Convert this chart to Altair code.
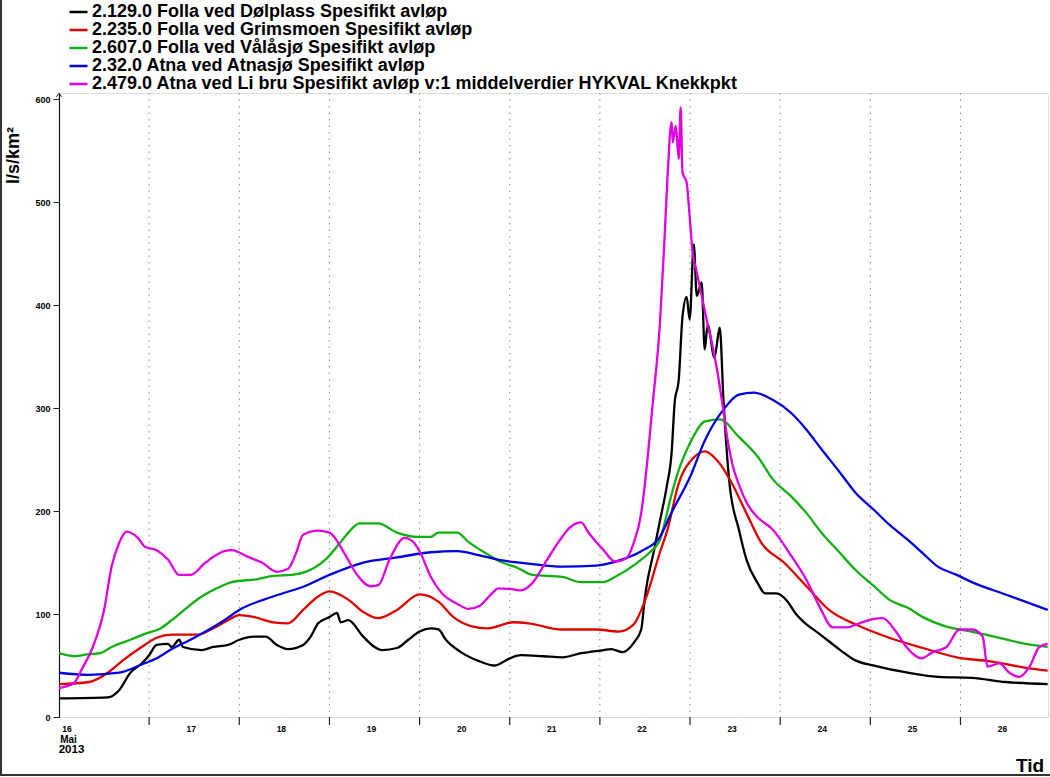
import altair as alt
import pandas as pd

# ---------------- data (hours since 2013-05-16 00:00, l/s/km2) ----------------
series_names = [
    "2.129.0 Folla ved Dølplass Spesifikt avløp",
    "2.235.0 Folla ved Grimsmoen Spesifikt avløp",
    "2.607.0 Folla ved Vålåsjø Spesifikt avløp",
    "2.32.0 Atna ved Atnasjø Spesifikt avløp",
    "2.479.0 Atna ved Li bru Spesifikt avløp v:1 middelverdier HYKVAL Knekkpkt",
]
series_colors = ["#000000", "#e00000", "#10b010", "#0000e0", "#e000e0"]

dol_h = [0, 13, 16, 19, 22, 24, 26, 29, 30, 32, 33, 38, 41, 45, 48, 52, 55, 58, 61, 65,
         67, 69, 72, 74, 75, 77, 81, 84, 86, 90, 93, 96, 99, 101, 103, 107, 112, 116, 120, 123,
         129, 134, 139, 145, 147, 150, 153, 155, 156, 158.6, 159.9, 161.8, 163.1, 163.9, 165.0,
         166.0, 167.1, 167.9, 169.0, 169.8, 171.1, 171.9, 172.7, 174.5, 175.9, 176.9, 178.5,
         181, 183, 186, 188, 191, 194, 196, 199, 202, 208, 212, 217, 226, 234, 243, 252, 263.2]
dol_v = [18, 19, 26, 43, 52, 60, 70, 71, 68, 75, 68, 65, 68, 70, 75, 78, 78, 70, 66, 70,
         78, 91, 97, 101, 92, 94, 78, 68, 65, 67, 75, 83, 86, 85, 75, 63, 54, 50, 57, 60,
         59, 58, 62, 65, 66, 63, 72, 85, 117, 165, 189, 224, 257, 305, 328, 389, 408, 386, 459, 409,
         422, 357, 381, 349, 378, 308, 227, 182, 153, 130, 120, 120, 112, 101, 90, 82, 65, 55, 50, 43,
         39, 38, 34, 32]

grim_h = [0, 8, 13, 17, 22, 26, 30, 37, 41, 45, 48, 52, 57, 61, 65, 69, 72, 77, 81, 85,
          90, 96, 101, 105, 110, 114, 121, 125, 134, 143, 149, 153, 156, 160, 162, 165, 169, 172,
          175, 179, 183, 187, 193, 199, 205, 212, 221, 230, 239, 248, 257, 263.2]
grim_v = [32, 34, 43, 55, 68, 77, 80, 80, 86, 94, 99, 97, 92, 91, 104, 117, 122, 114, 102, 96,
          104, 119, 112, 97, 88, 86, 92, 91, 85, 85, 83, 90, 113, 160, 182, 227, 252, 258, 250, 228,
          198, 169, 150, 127, 104, 90, 77, 67, 58, 54, 48, 45]

vala_h = [0, 4, 8, 11, 14, 19, 23, 27, 30, 34, 38, 42, 46, 53, 57, 62, 68, 71, 75, 78,
          80, 85, 90, 95, 99, 101, 106, 109, 115, 118, 122, 126, 134, 139, 145, 148, 154, 157, 160, 161,
          163, 165, 168, 172, 176, 181, 186, 190, 195, 199, 203, 208, 212, 217, 221, 226, 230, 236,
          243, 249, 256, 263.2]
vala_v = [62, 59, 61, 62, 68, 75, 81, 86, 94, 106, 117, 125, 131, 134, 137, 138, 145, 153, 170, 183,
          188, 188, 179, 175, 175, 179, 179, 170, 156, 150, 145, 138, 136, 131, 131, 136, 150, 159, 172, 185,
          215, 240, 266, 287, 289, 272, 253, 231, 214, 198, 179, 159, 143, 127, 114, 106, 97, 88,
          83, 78, 72, 68]

atna_h = [0, 8, 16, 22, 26, 30, 35, 39, 44, 48, 57, 66, 72, 81, 90, 99, 106, 112, 118, 125,
          134, 143, 150, 155, 160, 163, 168, 172, 177, 181, 185, 190, 195, 199, 203, 208, 212, 217,
          221, 226, 230, 234, 239, 243, 252, 263.2]
atna_v = [43, 41, 43, 51, 57, 66, 75, 83, 94, 104, 117, 128, 138, 150, 155, 160, 161, 157, 152, 149,
          146, 147, 153, 161, 175, 198, 233, 269, 299, 313, 315, 308, 295, 279, 260, 237, 218, 201,
          187, 172, 159, 146, 138, 131, 119, 104]

li_h = [0, 4, 6, 9, 12, 14, 16, 18, 21, 23, 26, 29, 32, 35, 39, 44, 46, 50, 54, 58,
        61, 63, 65, 69, 72, 76, 79, 83, 85, 88, 92, 94, 96, 99, 102, 106, 109, 112, 115, 117,
        121, 123, 126, 130, 133, 136, 139, 141, 145, 148, 151, 153, 155, 156, 158, 160, 161.2, 162.0,
        163.1, 163.4, 164.2, 165.0, 165.5, 166.0, 167.1, 167.9, 168.7, 169.8, 171.1, 172.4, 174.0,
        175.3, 176.7, 178.0, 179.3, 181.2, 183.1, 185.7, 190.0, 194.5, 199.0, 202.5, 206.0, 209.7,
        213.1, 216.6, 219.3, 223.0, 225.6, 229.6, 232.6, 236.3, 239.7, 243.2, 245.9, 247.2, 250.4,
        253.0, 255.7, 258.4, 261.0, 263.2]
li_v = [28, 33, 46, 68, 104, 146, 169, 180, 174, 165, 162, 153, 138, 138, 150, 161, 162, 156, 150, 141,
        144, 158, 177, 181, 179, 159, 140, 127, 128, 153, 174, 171, 161, 136, 120, 110, 105, 108, 119, 125,
        124, 123, 130, 153, 170, 184, 189, 179, 162, 151, 154, 169, 198, 227, 302, 383, 464, 524,
        578, 558, 574, 542, 592, 529, 519, 486, 451, 432, 409, 386, 360,
        335, 302, 269, 245, 224, 208, 195, 182, 159, 133, 107, 87, 87,
        91, 95, 96, 82, 68, 57, 63, 68, 85, 85, 78, 49, 52,
        43, 39, 49, 68, 71]

y_ticks = [0, 100, 200, 300, 400, 500, 600]
day_labels = ["17", "18", "19", "20", "21", "22", "23", "24", "25", "26"]
first_label = ["16", "Mai", "2013"]
x_title = "Tid"
y_title = "l/s/km²"

# ---------------- build table ----------------
all_h = [dol_h, grim_h, vala_h, atna_h, li_h]
all_v = [dol_v, grim_v, vala_v, atna_v, li_v]
rows = []
for name, hs, vs in zip(series_names, all_h, all_v):
    for h, v in zip(hs, vs):
        rows.append({"serie": name, "t": h, "v": v})
df = pd.DataFrame(rows)

X_MAX = 263.3
Y_MAX = 606
W, H = 989, 624
FONT = "Liberation Sans"

x_scale = alt.Scale(domain=[0, X_MAX], nice=False, zero=False)
y_scale = alt.Scale(domain=[0, Y_MAX], nice=False, zero=True)

day_bounds = pd.DataFrame({"d": [24 * (i + 1) for i in range(len(day_labels))]})
day_lab_df = pd.DataFrame({"t": [24 * (i + 1) + 12 for i in range(len(day_labels))],
                           "lab": day_labels})
one = pd.DataFrame({"k": [0]})

lines = alt.Chart(df).mark_line(strokeWidth=2.3, clip=True, interpolate="monotone").encode(
    x=alt.X("t:Q", scale=x_scale,
            axis=alt.Axis(values=list(range(0, 264)), labels=False, grid=False, title=None,
                          tickSize=4, tickColor="#222", domainColor="#111", domainWidth=1.2)),
    y=alt.Y("v:Q", scale=y_scale,
            axis=alt.Axis(values=y_ticks, grid=False, tickSize=6, tickColor="#222",
                          domainColor="#111", domainWidth=1.2, labelFont=FONT,
                          labelFontSize=9, labelFontWeight="bold", labelColor="black",
                          labelPadding=3, title=y_title, titleFont=FONT, titleFontSize=18,
                          titleFontWeight="bold", titleColor="black", titleAngle=270,
                          titleX=-46, titleY=62, titleAlign="center", titleBaseline="middle")),
    color=alt.Color("serie:N", sort=series_names,
                    scale=alt.Scale(domain=series_names, range=series_colors),
                    legend=alt.Legend(orient="none", legendX=9, legendY=-90, title=None,
                                      symbolType="stroke", symbolSize=324, symbolStrokeWidth=2.5,
                                      labelFont="Liberation Sans Narrow, Liberation Sans",
                                      labelFontSize=18, labelFontWeight="bold",
                                      labelColor="black", labelLimit=1000, labelOffset=3,
                                      clipHeight=18, rowPadding=0, padding=0)),
)

grid = alt.Chart(day_bounds).mark_rule(color="#888", strokeWidth=1, strokeDash=[1.5, 5]).encode(
    x=alt.X("d:Q", scale=x_scale, axis=None), y=alt.value(0), y2=alt.value(H))

major = alt.Chart(day_bounds).mark_rule(color="#222", strokeWidth=1.2).encode(
    x=alt.X("d:Q", scale=x_scale, axis=None), y=alt.value(H), y2=alt.value(H + 8))

day_text = alt.Chart(day_lab_df).mark_text(font=FONT, fontSize=8.5, fontWeight="bold",
                                           color="black", baseline="middle", dx=-3).encode(
    x=alt.X("t:Q", scale=x_scale, axis=None), y=alt.value(H + 12), text="lab:N")

first_layers = []
for lab, yy, fs, xx in zip(first_label, [H + 12, H + 23, H + 33], [8.5, 10, 11.5], [8, 9.5, 12.5]):
    first_layers.append(
        alt.Chart(one).mark_text(font=FONT, fontSize=fs, fontWeight="bold", color="black",
                                 baseline="middle", align="center", text=lab).encode(
            x=alt.value(xx), y=alt.value(yy)))

tid = alt.Chart(one).mark_text(font=FONT, fontSize=19, fontWeight="bold", color="black",
                               align="left", baseline="alphabetic", text=x_title).encode(
    x=alt.value(957), y=alt.value(H + 55))

frame_left = alt.Chart(one).mark_rule(color="#333", strokeWidth=2).encode(
    x=alt.value(-58), y=alt.value(-93), y2=alt.value(H + 59))
frame_bottom = alt.Chart(one).mark_rule(color="#333", strokeWidth=2).encode(
    x=alt.value(-59), x2=alt.value(W + 2), y=alt.value(H + 58))

arrow = alt.Chart(one).mark_point(shape="M-1,1L0,-0.2L1,1", filled=False, size=30,
                                  color="#111", strokeWidth=1, opacity=1).encode(
    x=alt.value(0), y=alt.value(1))

chart = alt.layer(grid, major, lines, day_text, *first_layers, tid, frame_left, frame_bottom,
                  arrow).properties(
    width=W, height=H, autosize="none",
    padding={"left": 59, "top": 93, "right": 2, "bottom": 60},
).configure_view(stroke=None).configure(background="white")

chart.save("out.html", embed_options={"renderer": "svg", "actions": False})
